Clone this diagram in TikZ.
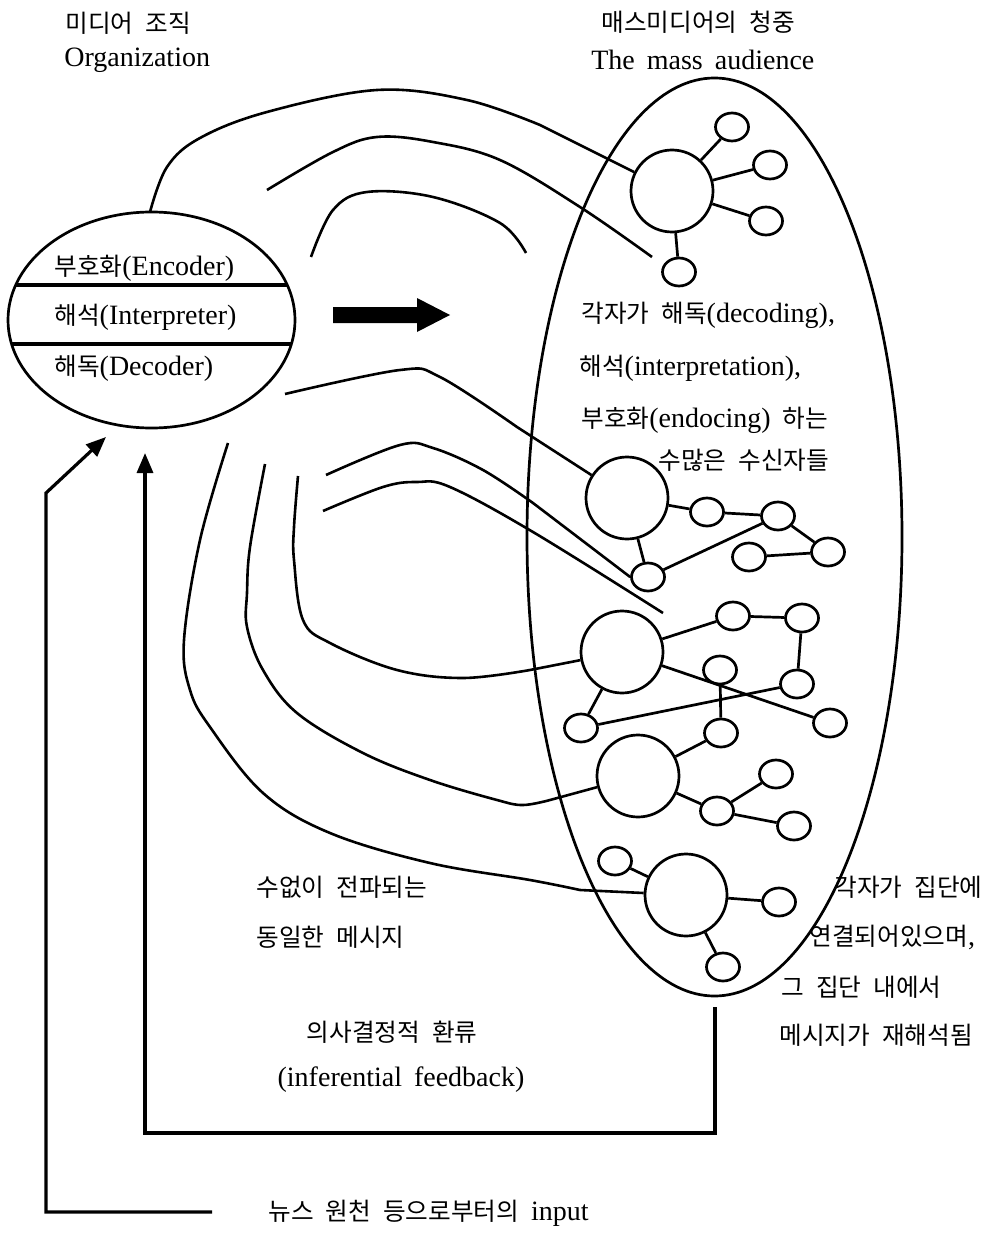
\documentclass[tikz,border=0pt]{standalone}
\usepackage{fontspec}
\setmainfont{Liberation Serif}
\newfontfamily\krfont{Noto Sans CJK KR}[Scale=0.88]
\newcommand{\KR}[1]{{\krfont #1}}
\newcommand{\kgap}{\hspace{12pt}}
\usetikzlibrary{arrows.meta,shapes.geometric}
\begin{document}
\begin{tikzpicture}[x=1pt,y=-1pt,line width=2.7pt,
  txt/.style={inner sep=0pt,anchor=west,font=\fontsize{28}{34}\selectfont},
  ctxt/.style={txt,anchor=center},
  bigc/.style={circle,draw,line width=2.7pt,minimum size=82pt,inner sep=0pt},
  sm/.style={ellipse,draw,line width=2.7pt,minimum width=33pt,minimum height=28pt,inner sep=0pt},
  edge/.style={line width=2.7pt},
  msg/.style={line width=2.6pt,line join=round},
  loop/.style={line width=3.2pt},
  tip/.style={-{Triangle[length=20pt,width=16pt]}}]
\useasboundingbox (0,0) rectangle (990,1233);

% titles
\node[txt] (t1) at (64,23) {\KR{미디어\kgap 조직}};
\node[txt] (t2) at (63,60) {Organization};
\node[txt] (t3) at (600,22) {\KR{매스미디어의\kgap 청중}};
\node[txt] (t4) at (590,60) {The\kgap mass\kgap audience};

% organization ellipse
\node[ellipse,draw,line width=2.7pt,minimum width=287pt,minimum height=216pt,inner sep=0pt] (org) at (151.5,320) {};
\begin{scope}
\clip (151.5,320) ellipse [x radius=143.5, y radius=108];
\draw[line width=3.2pt] (0,285) -- (300,285);
\draw[line width=3.2pt] (0,344) -- (300,344);
\end{scope}
\node[txt] (enc) at (53,268) {\KR{부호화}(Encoder)};
\node[txt] (int) at (53,317) {\KR{해석}(Interpreter)};
\node[txt] (dec) at (53,368) {\KR{해독}(Decoder)};

% big arrow
\fill (333,307) -- (417,307) -- (417,298) -- (450,315) -- (417,332) -- (417,323) -- (333,323) -- cycle;

% audience ellipse
\node[ellipse,draw,line width=2.7pt,minimum width=375pt,minimum height=918pt,inner sep=0pt] (aud) at (714.5,537) {};

% cluster 1
\node[bigc] (c1) at (672,191) {};
\node[sm] (c1a) at (732,127) {};
\node[sm] (c1b) at (770,165) {};
\node[sm] (c1c) at (766,221) {};
\node[sm] (c1d) at (679,272) {};
\draw[edge] (c1) -- (c1a);
\draw[edge] (c1) -- (c1b);
\draw[edge] (c1) -- (c1c);
\draw[edge] (c1) -- (c1d);

% cluster 2
\node[bigc] (c2) at (627,498) {};
\node[sm] (c2a) at (707,512) {};
\node[sm] (c2b) at (778,516) {};
\node[sm] (c2c) at (828,552) {};
\node[sm] (c2d) at (749,557) {};
\node[sm] (c2e) at (648,577) {};
\draw[edge] (c2) -- (c2a);
\draw[edge] (c2a) -- (c2b);
\draw[edge] (c2b) -- (c2c);
\draw[edge] (c2c) -- (c2d);
\draw[edge] (c2) -- (c2e);
\draw[edge] (c2e) -- (c2b);

% cluster 3
\node[bigc] (c3) at (622,652) {};
\node[sm] (s1) at (733,616) {};
\node[sm] (s2) at (802,618) {};
\node[sm] (s3) at (797,684) {};
\node[sm] (s4) at (720,670) {};
\node[sm] (s5) at (581,728) {};
\node[sm] (s6) at (721,733) {};
\node[sm] (s7) at (830,723) {};
\draw[edge] (c3) -- (s1);
\draw[edge] (s1) -- (s2);
\draw[edge] (s2) -- (s3);
\draw[edge] (c3) -- (s7);
\draw[edge] (s5) -- (s3);
\draw[edge] (s4) -- (s6);
\draw[edge] (c3) -- (s5);

% cluster 4
\node[bigc] (c4) at (638,776) {};
\node[sm] (u1) at (776,774) {};
\node[sm] (u2) at (717,811) {};
\node[sm] (u3) at (794,826) {};
\draw[edge] (c4) -- (s6);
\draw[edge] (c4) -- (u2);
\draw[edge] (u2) -- (u1);
\draw[edge] (u2) -- (u3);

% cluster 5
\node[bigc] (c5) at (686,895) {};
\node[sm] (v1) at (615,861) {};
\node[sm] (v2) at (779,902) {};
\node[sm] (v3) at (723,967) {};
\draw[edge] (c5) -- (v1);
\draw[edge] (c5) -- (v2);
\draw[edge] (c5) -- (v3);

% message curves
\draw[msg] plot[smooth,tension=0.6] coordinates {(150,212) (167,167) (200,138) (267,112) (377,90) (467,100) (540,125)} -- (c1);
\draw[msg] plot[smooth,tension=0.6] coordinates {(267,190) (333,152) (377,137) (433,142) (500,160) (580,207) (652,257)};
\draw[msg] plot[smooth,tension=0.6] coordinates {(311,257) (333,210) (367,192) (433,197) (500,223) (526,253)};
\draw[msg] plot[smooth,tension=0.6] coordinates {(285,394) (400,370) (440,377) (517,427)} -- (c2);
\draw[msg] plot[smooth,tension=0.6] coordinates {(326,475) (400,445) (433,448) (483,470) (533,503)} -- (c2e.west);
\draw[msg] plot[smooth,tension=0.6] coordinates {(323,511) (383,487) (417,482) (450,487) (533,532) (663,613)};
\draw[msg] plot[smooth,tension=0.6] coordinates {(298,476) (294,527) (294,560) (303,620) (330,643) (397,670) (463,678) (530,670)} -- (c3);
\draw[msg] plot[smooth,tension=0.6] coordinates {(265,464) (250,547) (247,593) (247,627) (263,670) (297,713) (363,753) (430,780) (497,800) (523,805) (550,800)} -- (c4);
\draw[msg] plot[smooth,tension=0.6] coordinates {(228,443) (200,540) (184,640) (190,690) (210,727) (263,793) (330,833) (430,863) (530,880) (580,890)} -- (c5);

% right labels
\node[txt] (r1) at (580,315) {\KR{각자가\kgap 해독}(decoding),};
\node[txt] (r2) at (578,368) {\KR{해석}(interpretation),};
\node[txt] (r3) at (580,420) {\KR{부호화}(endocing)\kgap\KR{하는}};
\node[txt] (r4) at (657,460) {\KR{수많은\kgap 수신자들}};

\node[txt] (m1) at (255,887) {\KR{수없이\kgap 전파되는}};
\node[txt] (m2) at (255,937) {\KR{동일한\kgap 메시지}};

\node[txt] (g1) at (833,887) {\KR{각자가\kgap 집단에}};
\node[txt] (g2) at (808,937) {\KR{연결되어있으며},};
\node[txt] (g3) at (780,987) {\KR{그\kgap 집단\kgap 내에서}};
\node[txt] (g4) at (778,1035) {\KR{메시지가\kgap 재해석됨}};

\node[ctxt] (f1) at (392,1032) {\KR{의사결정적\kgap 환류}};
\node[ctxt] (f2) at (401,1080) {(inferential\kgap feedback)};
\node[txt] (in) at (267,1213) {\KR{뉴스\kgap 원천\kgap 등으로부터의}\kgap input};

% feedback loop
\coordinate (fbtop) at (715,1007);
\coordinate (fbtip) at (145,453);
\draw[loop,tip] (fbtop) -- (715,1133) -- (145,1133) -- (fbtip);

% input loop
\coordinate (instart) at (212,1212);
\coordinate (intip) at (106,437);
\draw[loop,tip] (instart) -- (46,1212) -- (46,493) -- (intip);
\end{tikzpicture}
\end{document}
